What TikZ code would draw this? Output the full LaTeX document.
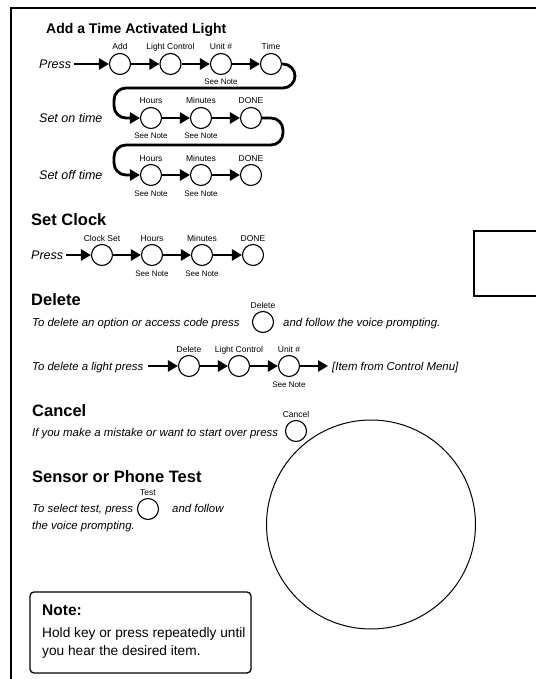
\documentclass[tikz,border=0pt]{standalone}
\usepackage{fontspec}
\setmainfont{Liberation Sans}
\usetikzlibrary{arrows.meta}
\newcommand\myfs[1]{\fontsize{#1pt}{#1pt}\selectfont}
\tikzset{
  btn/.style={circle, draw, line width=1.1pt, minimum size=21pt, inner sep=0pt},
  arr/.style={line width=2.8pt, -{Triangle[length=10pt,width=11pt]}},
  snake/.style={arr, rounded corners=12pt},
  lbl/.style={font=\myfs{8.5}, anchor=base, inner sep=0pt},
  snote/.style={font=\myfs{8}, anchor=base, inner sep=0pt},
  head/.style={font=\bfseries\myfs{16.5}, anchor=base west, inner sep=0pt},
  body/.style={font=\itshape\myfs{11.4}, anchor=base west, inner sep=0pt},
  cue/.style={font=\itshape\myfs{12.5}, anchor=base west, inner sep=0pt},
  frame/.style={line width=1.6pt},
  notebox/.style={draw, rounded corners=4pt, line width=1.3pt, inner sep=0pt},
  notetext/.style={anchor=base west, inner sep=0pt, font=\myfs{13.7}},
}
\newcommand\Btn[4]{%
  \node[btn] (#1) at (#2,#3) {};
  \node[lbl] (#1-l) at ([yshift=14pt]#1.center) {#4};}
\newcommand\SeeNote[1]{\node[snote] (#1-s) at ([yshift=-21pt]#1.center) {See Note};}
\begin{document}
\begin{tikzpicture}[x=1pt,y=-1pt]
\useasboundingbox (0,0) rectangle (536,679);
% frame
\draw[frame] (11,679) -- (11,8) -- (536,8);
\draw[frame, line width=1.5pt] (536,231) -- (474,231) -- (474,296) -- (536,296);
% ---- Add a Time Activated Light
\node[head, font=\bfseries\myfs{14}] (t1) at (46,34) {Add a Time Activated Light};
\node[cue] (p1) at (39,68.5) {Press};
\Btn{a1}{120}{64}{Add}
\Btn{a2}{170.5}{64}{Light Control}
\Btn{a3}{221}{64}{Unit \#}
\Btn{a4}{271}{64}{Time}
\SeeNote{a3}
\draw[arr] ([xshift=3pt]p1.east |- a1.west) -- (a1.west);
\draw[arr] (a1) -- (a2);
\draw[arr] (a2) -- (a3);
\draw[arr] (a3) -- (a4);
\node[cue] (p2) at (39,122.5) {Set on time};
\Btn{b1}{151}{118}{Hours}
\Btn{b2}{201}{118}{Minutes}
\Btn{b3}{251}{118}{DONE}
\SeeNote{b1}\SeeNote{b2}
\draw[snake] (a4.east) -- (295,64) -- (295,88) -- (114,88) -- (114,118) -- (b1.west);
\draw[arr] (b1) -- (b2);
\draw[arr] (b2) -- (b3);
\node[cue] (p3) at (39,179.5) {Set off time};
\Btn{c1}{151}{175}{Hours}
\Btn{c2}{201}{175}{Minutes}
\Btn{c3}{251}{175}{DONE}
\SeeNote{c1}\SeeNote{c2}
\draw[snake] (b3.east) -- (283,118) -- (283,145) -- (114,145) -- (114,175) -- (c1.west);
\draw[arr] (c1) -- (c2);
\draw[arr] (c2) -- (c3);
% ---- Set Clock
\node[head] (t2) at (31,225) {Set Clock};
\node[cue] (p4) at (31,259.5) {Press};
\Btn{d1}{102}{255}{Clock Set}
\Btn{d2}{152}{255}{Hours}
\Btn{d3}{202}{255}{Minutes}
\Btn{d4}{253}{255}{DONE}
\SeeNote{d2}\SeeNote{d3}
\draw[arr] ([xshift=3pt]p4.east |- d1.west) -- (d1.west);
\draw[arr] (d1) -- (d2);
\draw[arr] (d2) -- (d3);
\draw[arr] (d3) -- (d4);
% ---- Delete
\node[head] (t3) at (31,305) {Delete};
\node[body] (e1) at (32,326) {To delete an option or access code press};
\Btn{e0}{263}{322}{Delete}
\node[body] (e2) at (283,326) {and follow the voice prompting.};
\node[body] (f0) at (32,370) {To delete a light press};
\Btn{f1}{189}{366}{Delete}
\Btn{f2}{239}{366}{Light Control}
\Btn{f3}{289}{366}{Unit \#}
\SeeNote{f3}
\node[body] (itm) at (332,370) {[Item from Control Menu]};
\coordinate (itmtip) at (328,366);
\draw[arr] ([xshift=4pt]f0.east |- f1.west) -- (f1.west);
\draw[arr] (f1) -- (f2);
\draw[arr] (f2) -- (f3);
\draw[arr] (f3.east) -- (itmtip);
% ---- Cancel
\node[head] (t4) at (32,416) {Cancel};
\node[body] (g1) at (32,436) {If you make a mistake or want to start over press};
\Btn{g0}{296}{431}{Cancel}
% ---- Sensor or Phone Test
\node[head] (t5) at (32,482) {Sensor or Phone Test};
\node[body] (h1) at (32,512) {To select test, press};
\Btn{h0}{148}{509}{Test}
\node[body] (h2) at (172,512) {and follow};
\node[body] (h3) at (32,529) {the voice prompting.};
% ---- big dial
\node[circle, draw, line width=1pt, minimum size=209pt, inner sep=0pt] (dial) at (371,524.5) {};
% ---- Note
\node[notebox, minimum width=221pt, minimum height=81pt] (nb) at (140.5,632.5) {};
\node[anchor=base west, inner sep=0pt, font=\bfseries\myfs{15.5}] (n1) at (42,615) {Note:};
\node[notetext] (n2) at (42,637) {Hold key or press repeatedly until};
\node[notetext] (n3) at (42,655) {you hear the desired item.};
\end{tikzpicture}
\end{document}
